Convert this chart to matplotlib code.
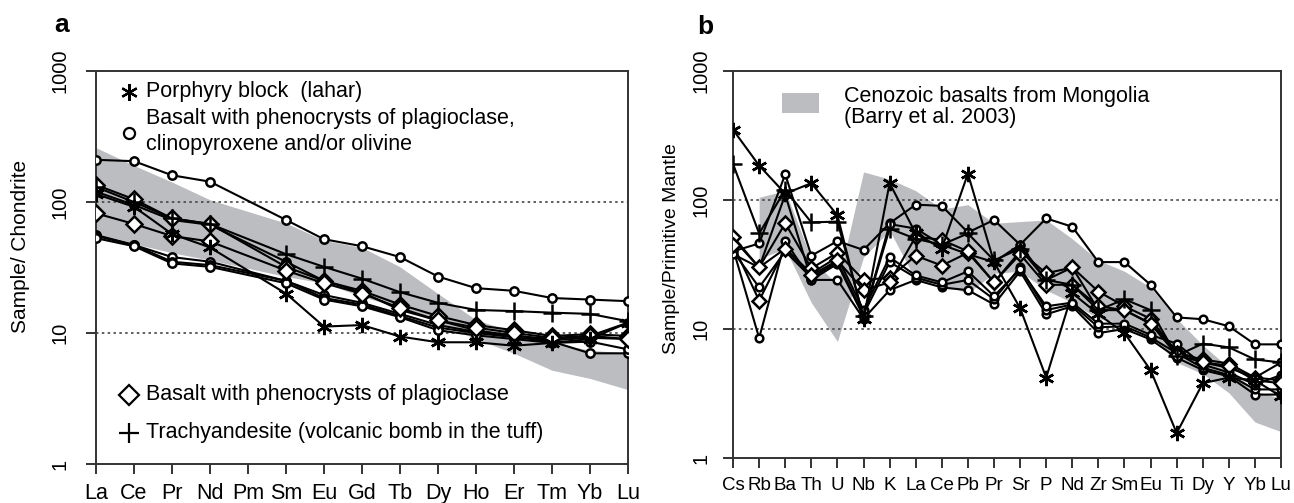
import numpy as np
import matplotlib
matplotlib.use('Agg')
import matplotlib.pyplot as plt
from matplotlib.patches import Rectangle

plt.rcParams['font.family'] = ['Liberation Sans', 'DejaVu Sans']

nan = np.nan

# ---- panel a: REE / chondrite ----
ree = ['La', 'Ce', 'Pr', 'Nd', 'Pm', 'Sm', 'Eu', 'Gd', 'Tb', 'Dy', 'Ho', 'Er', 'Tm', 'Yb', 'Lu']
a_band_hi = [260, 190, 142, 104, nan, 69, 51, 45, 32, 20, 12.6, 10.2, 8.4, 7.4, 7.0]
a_band_lo = [56, 48, 41, 36, nan, 27, 24, 19, 15.5, 12, 9, 7, 5.2, 4.5, 3.7]

a_circle = [
    [210, 205, 160, 143, nan, 73, 52, 46, 38, 27, 22, 21, 18.5, 18, 17.5],
    [56, 47, 38, 35, nan, 25, 19.5, 17, 14, 11.5, 10.2, 9.6, 8.8, 9.2, 9.0],
    [55, 47, 35, 33, nan, 25, 18.5, 16.5, 13.5, 11, 10, 9.3, 8.6, 7.0, 7.0],
    [53, 46, 34, 32, nan, 24, 18, 16, 13.2, 10.5, 9.6, 9.0, 8.4, 8.6, 7.5],
    [120, 95, 73, 67, nan, 35, 25, 20.5, 15, 12.5, 10.5, 9.5, 9, 9.5, 12],
]
a_star = [[115, 92, 57, 45, nan, 20, 11.2, 11.5, 9.4, 8.5, 8.5, 8.0, 8.4, 9, 12]]
a_plus = [[130, 100, 75, 68, nan, 40, 32, 26, 20.5, 17, 15, 14.7, 14.3, 14, 12.3]]
a_diamond = [
    [135, 105, 75, 68, nan, 32, 25, 21, 16.5, 13.5, 11.5, 10.5, 9.5, 9.8, 9.5],
    [82, 68, 55, 50, nan, 30, 24, 20, 15.5, 12.5, 11, 10, 9.2, 9.5, 9],
]

# ---- panel b: primitive mantle normalised ----
els = ['Cs', 'Rb', 'Ba', 'Th', 'U', 'Nb', 'K', 'La', 'Ce', 'Pb', 'Pr', 'Sr', 'P', 'Nd',
       'Zr', 'Sm', 'Eu', 'Ti', 'Dy', 'Y', 'Yb', 'Lu']
b_band_hi = [nan, 105, 118, 35, 22, 165, 145, 118, 85, 92, 66, 68, 70, 50, 34, 28, 21, 12, 7.5, 5, 3.3, 2.9]
b_band_lo = [nan, 35, 42, 16, 8, 36, 58, 24, 22, 19, 27, 28, 20, 16, 12, 11, 9, 5.5, 4.5, 3.2, 1.9, 1.6]

b_circle = [
    [40, 46, 158, 37, 48, 41, 66, 92, 90, 56, 70, 45, 72, 62, 33, 33, 22, 12.3, 11.9, 10.5, 7.6, 7.6],
    [42, 8.5, 48, 24, 24, 12, 20, 24, 21, 20, 15.5, 28, 13, 15, 9.3, 10, 8.3, 6.0, 4.8, 4.3, 3.1, 3.1],
    [40, 21, 40, 25, 33, 13, 33, 25, 22, 24, 17, 30, 14, 15.5, 10.3, 10.5, 8.6, 6.5, 5.0, 4.4, 3.4, 3.4],
    [38, 30, 42, 27, 36, 14, 36, 26, 23, 28, 18, 29, 15, 16, 11, 11, 9.0, 7.7, 5.3, 4.6, 3.7, 4.4],
    [50, 30, 110, 24, 32, 12.5, 65, 60, 45, 38, 33, 45, 24, 30, 14, 14, 11, 6.8, 5.5, 5.0, 4.2, 5.5],
]
b_star = [[350, 185, 112, 135, 76, 12, 135, 55, 42, 160, 33, 14.5, 4.2, 19, 13, 9.3, 4.8, 1.56, 3.8, 4.2, 4.0, 3.0]]
b_plus = [[190, 55, 120, 67, 68, 12.5, 60, 50, 45, 55, 34, 42, 24, 22, 14, 17, 14, 6.2, 7.7, 7.2, 5.8, 5.5]]
b_diamond = [
    [52, 30, 66, 29.5, 39, 24, 25, 37, 31, 39, 23, 40, 27, 30, 19.5, 15, 12, 6.5, 5.8, 5.4, 4.2, 4.0],
    [45, 16.6, 42, 26, 34, 20, 23, 52, 49, 40, 23, 38, 22, 22, 15, 14, 11, 6.3, 5.5, 5.2, 4.0, 3.8],
]

band_col = '#bcbdc0'
star = (6, 2, 0)

fig = plt.figure(figsize=(12.94, 5.03), dpi=100)
ax_a = fig.add_axes([0.0742, 0.0775, 0.4111, 0.7813])
ax_b = fig.add_axes([0.5665, 0.0895, 0.4235, 0.7694])


def band(ax, lo, hi):
    lo = np.asarray(lo, float)
    hi = np.asarray(hi, float)
    x = np.arange(len(lo))
    ok = ~np.isnan(lo)
    ax.fill_between(x[ok], lo[ok], hi[ok], color=band_col, lw=0, zorder=1)


def draw(ax, y, marker, ms):
    y = np.asarray(y, float)
    x = np.arange(len(y))
    ok = ~np.isnan(y)
    ax.plot(x[ok], y[ok], color='black', lw=1.5, marker=marker, ms=ms,
            mfc='white', mec='black', mew=1.8, zorder=3)


band(ax_a, a_band_lo, a_band_hi)
for s in a_circle:
    draw(ax_a, s, 'o', 6)
for s in a_diamond:
    draw(ax_a, s, 'D', 8.5)
for s in a_star:
    draw(ax_a, s, star, 11)
for s in a_plus:
    draw(ax_a, s, '+', 13)

band(ax_b, b_band_lo, b_band_hi)
for s in b_circle:
    draw(ax_b, s, 'o', 5.5)
for s in b_diamond:
    draw(ax_b, s, 'D', 7.5)
for s in b_star:
    draw(ax_b, s, star, 11)
for s in b_plus:
    draw(ax_b, s, '+', 13)

for ax, labels, fs in ((ax_a, ree, 15.5), (ax_b, els, 13.5)):
    ax.set_yscale('log')
    ax.set_ylim(1, 1000)
    ax.set_xlim(0, len(labels) - 1)
    ax.set_yticks([1, 10, 100, 1000])
    ax.set_yticklabels(['1', '10', '100', '1000'], rotation=90, va='center', fontsize=14.5)
    ax.yaxis.set_minor_locator(matplotlib.ticker.NullLocator())
    ax.set_xticks(np.arange(len(labels)))
    ax.set_xticklabels(labels, fontsize=fs)
    ax.tick_params(direction='out', length=7, width=1.4, color='#333333')
    ax.tick_params(axis='x', pad=7)
    for sp in ax.spines.values():
        sp.set_linewidth(1.4)
        sp.set_color('#333333')
    for v in (10, 100):
        ax.axhline(v, ls=(0, (1.5, 2)), color='#444444', lw=1.2, zorder=2)

ax_a.tick_params(axis='y', pad=12)
ax_b.tick_params(axis='y', pad=9)

# legend panel a
ta = ax_a.transAxes
fs_leg = 15.5
ax_a.plot([0.062], [0.947], transform=ta, marker=star, ms=12, color='black', mew=1.6, clip_on=False)
ax_a.text(0.094, 0.947, 'Porphyry block  (lahar)', transform=ta, va='center', fontsize=fs_leg)
ax_a.plot([0.062], [0.842], transform=ta, marker='o', ms=8, mfc='white', mec='black', mew=1.6, clip_on=False)
ax_a.text(0.094, 0.880, 'Basalt with phenocrysts of plagioclase,', transform=ta, va='center', fontsize=fs_leg)
ax_a.text(0.094, 0.812, 'clinopyroxene and/or olivine', transform=ta, va='center', fontsize=fs_leg)
ax_a.plot([0.062], [0.176], transform=ta, marker='D', ms=10, mfc='white', mec='black', mew=1.6, clip_on=False)
ax_a.text(0.094, 0.176, 'Basalt with phenocrysts of plagioclase', transform=ta, va='center', fontsize=fs_leg)
ax_a.plot([0.062], [0.079], transform=ta, marker='+', ms=15, color='black', mew=1.6, clip_on=False)
ax_a.text(0.094, 0.079, 'Trachyandesite (volcanic bomb in the tuff)', transform=ta, va='center', fontsize=fs_leg)

# legend panel b
tb = ax_b.transAxes
ax_b.add_patch(Rectangle((0.089, 0.891), 0.068, 0.052, transform=tb, color=band_col, lw=0))
ax_b.text(0.203, 0.933, 'Cenozoic basalts from Mongolia', transform=tb, va='center', fontsize=15.5)
ax_b.text(0.203, 0.881, '(Barry et al. 2003)', transform=tb, va='center', fontsize=15.5)

fig.text(21 / 1294, 1 - 246 / 503, 'Sample/ Chondrite', rotation=90, ha='center', va='center', fontsize=15)
fig.text(671 / 1294, 1 - 249 / 503, 'Sample/Primitive Mantle', rotation=90, ha='center', va='center', fontsize=14)
fig.text(62 / 1294, 1 - 25 / 503, 'a', fontweight='bold', ha='center', va='center', fontsize=19)
fig.text(705 / 1294, 1 - 27 / 503, 'b', fontweight='bold', ha='center', va='center', fontsize=19)

fig.savefig('out.png', dpi=100)
